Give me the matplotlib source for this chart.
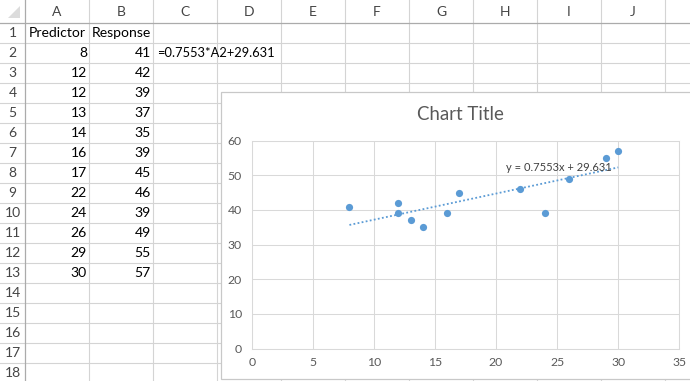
import numpy as np
import matplotlib
matplotlib.use("Agg")
import matplotlib.pyplot as plt
from matplotlib.patches import Rectangle, Polygon

plt.rcParams['font.family'] = ['Lato', 'DejaVu Sans']

# ---- data ----
predictor = [8, 12, 12, 13, 14, 16, 17, 22, 24, 26, 29, 30]
response = [41, 42, 39, 37, 35, 39, 45, 46, 39, 49, 55, 57]
col_letters = ['A', 'B', 'C', 'D', 'E', 'F', 'G', 'H', 'I', 'J']
row_numbers = list(range(1, 19))
headers = ['Predictor', 'Response']
chart_title = 'Chart Title'
x_ticks = [0, 5, 10, 15, 20, 25, 30, 35]
y_ticks = [0, 10, 20, 30, 40, 50, 60]

slope, intercept = np.polyfit(predictor, response, 1)
eq_text = f"y = {slope:.4f}x + {intercept:.3f}"
formula_text = f"={slope:.4f}*A2+{intercept:.3f}"

W, H = 690, 381
fig = plt.figure(figsize=(W / 100, H / 100), dpi=100)
sheet = fig.add_axes([0, 0, 1, 1])
sheet.set_xlim(0, W)
sheet.set_ylim(H, 0)
sheet.axis('off')

grid_c = '#d4d4d4'
hdr_line = '#ababab'
rowhdr_w = 25
col_w = 64
hdr_h = 22.7
row_h = 20
col_edges = [rowhdr_w + col_w * i for i in range(12)]

# cell grid
for xe in col_edges[1:]:
    sheet.plot([xe, xe], [0, H], color=grid_c, lw=0.8, zorder=1)
for k in range(1, 19):
    ye = hdr_h + row_h * k
    sheet.plot([0, W], [ye, ye], color=grid_c, lw=0.8, zorder=1)
sheet.plot([0, W], [hdr_h, hdr_h], color=hdr_line, lw=0.9, zorder=2)
sheet.plot([rowhdr_w, rowhdr_w], [0, H], color=hdr_line, lw=0.9, zorder=2)
sheet.add_patch(Polygon([[20, 6], [20, 18], [8, 18]], closed=True,
                        color='#dcdcdc', lw=0, zorder=2))

# headers
for i, c in enumerate(col_letters):
    sheet.text(col_edges[i] + col_w / 2, 11.5, c, ha='center', va='center',
               fontsize=10.0, color='#444444', zorder=3)
for r in row_numbers:
    sheet.text(rowhdr_w / 2, hdr_h + row_h * (r - 1) + 10.5, str(r),
               ha='center', va='center', fontsize=10.0, color='#444444', zorder=3)

def row_y(r):
    return hdr_h + row_h * (r - 1) + 10.5

cell_fs = 10.1
sheet.text(col_edges[0] + 4, row_y(1), headers[0], ha='left', va='center', fontsize=cell_fs, zorder=3)
sheet.text(col_edges[1] + 3, row_y(1), headers[1], ha='left', va='center', fontsize=cell_fs, zorder=3)
for i, (p, r) in enumerate(zip(predictor, response)):
    sheet.text(col_edges[1] - 2, row_y(i + 2), str(p), ha='right', va='center', fontsize=cell_fs, zorder=3)
    sheet.text(col_edges[2] - 2, row_y(i + 2), str(r), ha='right', va='center', fontsize=cell_fs, zorder=3)
sheet.text(col_edges[2] + 4, row_y(2), formula_text, ha='left', va='center',
           fontsize=cell_fs * 0.92, zorder=3)

# chart area
sheet.add_patch(Rectangle((220.7, 92), 500, 287.3, facecolor='white',
                          edgecolor='#c8c8c8', lw=0.9, zorder=5))
sheet.text(460, 114, chart_title, ha='center', va='center', fontsize=13.4,
           color='#595959', zorder=6)

# plot axes
x0, x1 = 251.7, 679.3
y0, y1 = 348.5, 140.7
ax = fig.add_axes([x0 / W, (H - y0) / H, (x1 - x0) / W, (y0 - y1) / H], zorder=10)
ax.set_facecolor('none')
ax.set_xlim(0, 35)
ax.set_ylim(0, 60)
ax.set_xticks(x_ticks)
ax.set_yticks(y_ticks)
ax.grid(True, color='#d9d9d9', lw=0.75)
ax.set_axisbelow(True)
for s in ax.spines.values():
    s.set_color('#d9d9d9')
    s.set_linewidth(0.75)
ax.tick_params(length=0, labelsize=8.8, labelcolor='#595959')
ax.tick_params(axis='x', pad=6)
ax.tick_params(axis='y', pad=7)

ax.plot(predictor, response, 'o', color='#5b9bd5', markersize=5.2, markeredgewidth=0, zorder=3)
xt = np.array([min(predictor), max(predictor)])
ax.plot(xt, slope * xt + intercept, color='#5b9bd5', lw=1.3, linestyle=(0, (1, 1.3)), zorder=2)
ax.text(20.8, 52.4, eq_text, ha='left', va='center', fontsize=8.0, color='#404040', zorder=4)

fig.savefig('out.png', dpi=100)
